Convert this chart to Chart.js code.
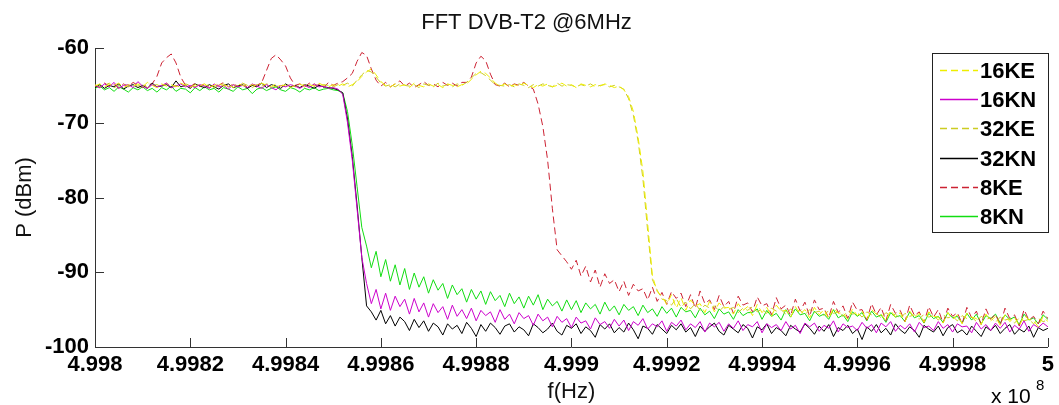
<!DOCTYPE html>
<html>
<head>
<meta charset="utf-8">
<script src="https://cdn.jsdelivr.net/npm/chart.js@4.4.1/dist/chart.umd.min.js"></script>
<style>
  html, body { margin: 0; padding: 0; background: #fff; }
  canvas { display: block; }
</style>
</head>
<body>
<canvas id="chart" width="1059" height="405"></canvas>
<script>
// frequency grid, in units of 1e8 Hz (axis shows "x 10^8")
const freqStart = 4.998;
const freqStep = 0.00001;
const freqCount = 201;

const seriesLabels = ['16KE', '16KN', '32KE', '32KN', '8KE', '8KN'];

const p16KE = [
  -65.1,-64.8,-65.2,-64.9,-65.0,-64.7,-65.3,-64.9,-65.1,-64.8,
  -65.2,-64.6,-65.0,-65.3,-64.8,-65.1,-64.9,-65.2,-64.7,-65.0,
  -65.3,-64.9,-65.1,-64.8,-65.2,-65.0,-64.7,-65.1,-64.9,-65.3,
  -64.8,-65.0,-65.2,-64.9,-65.1,-64.7,-65.0,-65.2,-64.8,-65.1,
  -64.9,-65.3,-65.0,-64.8,-65.2,-64.9,-65.1,-64.7,-65.0,-65.2,
  -64.9,-65.1,
  -64.8,-65.2,-64.9,-64.5,-63.8,-63.2,-62.8,-63.6,-64.5,-65.0,
  -65.2,-64.8,-65.1,-64.9,-65.3,-64.7,-65.0,-65.2,-64.8,-65.1,-64.9,-65.3,-64.8,-65.0,-65.2,-64.9,
  -64.8,-64.2,-63.6,-63.1,-63.4,-64.0,-64.7,-65.1,
  -64.8,-65.2,-64.9,-65.1,-64.7,-65.0,-65.3,-64.9,-65.1,-64.8,-65.2,-65.0,-64.7,-65.1,-64.9,-65.3,-64.8,-65.0,-65.2,-64.9,-65.1,-64.8,-65.0,-65.3,-65.1,
  -65.6,-66.5,-68.5,-72.0,-76.5,-83.5,-90.5,-92.6,-93.2,
  -94.3,-93.0,-94.8,-93.4,-95.1,-93.7,-94.5,-94.2,-95.4,-93.9,
  -95.3,-94.1,-94.8,-94.7,-95.6,-94.2,-95.1,-94.6,-95.8,-94.3,
  -95.4,-94.7,-95.9,-94.4,-95.2,-95.1,-96.0,-94.6,-95.6,-95.0,
  -96.1,-94.7,-95.7,-95.0,-96.2,-94.8,-95.5,-95.4,-96.3,-94.9,
  -95.8,-95.2,-96.4,-95.0,-95.6,-95.6,-96.5,-95.1,-96.0,-95.4,
  -96.6,-95.2,-96.1,-95.5,-96.7,-95.3,-95.9,-96.0,-96.8,-95.4,
  -96.3,-95.7,-96.9,-95.5,-96.0,-96.2,-97.0,-95.6,-96.5,-95.9,
  -97.1,-95.7,-96.6,-96.0,-97.2,-95.8,-96.3,-96.5,-97.3,-95.9,-96.6
];

const p16KN = [
  -65.0,-65.3,-64.8,-65.2,-64.6,-65.4,-65.0,-64.9,-65.3,-64.5,
  -65.1,-65.4,-64.9,-65.2,-65.0,-64.7,-65.3,-65.1,-64.8,-65.2,
  -65.0,-65.3,-64.9,-65.1,-65.4,-64.8,-65.2,-65.0,-65.5,-64.9,
  -65.2,-65.0,-65.3,-64.8,-65.1,-65.4,-64.9,-65.3,-65.6,-65.0,
  -65.2,-64.9,-65.1,-65.4,-65.0,-65.3,-64.8,-65.2,-65.1,-65.4,
  -65.3,-65.5,
  -66.2,-70.0,-75.0,-81.5,-88.0,-91.5,
  -94.2,-92.3,-94.9,-92.8,-95.1,-93.2,-94.6,-93.6,-95.6,-93.5,-95.3,-94.1,
  -96.0,-94.2,-95.4,-94.6,-96.3,-94.4,-95.9,-95.0,-96.2,-94.8,
  -96.5,-95.1,-95.8,-95.3,-96.7,-95.0,-96.3,-95.6,-96.9,-95.4,
  -96.2,-95.8,-97.1,-95.6,-96.5,-96.0,-97.3,-95.9,-96.7,-96.2,
  -97.4,-96.0,-96.8,-96.5,-97.6,-96.1,-97.0,-96.6,-97.5,-96.3,
  -97.2,-96.4,-97.8,-96.6,-97.1,-96.2,-97.6,-96.9,-97.3,-96.5,
  -97.9,-96.7,-97.2,-96.4,-97.7,-96.9,-97.4,-96.6,-98.0,-96.8,
  -97.3,-96.7,-97.9,-96.9,-97.5,-96.5,-97.8,-97.0,-97.3,-96.6,
  -98.1,-96.9,-97.4,-97.0,-97.8,-96.6,-97.6,-97.1,-98.2,-96.8,
  -97.3,-96.8,-97.9,-97.1,-97.5,-96.5,-98.0,-96.9,-97.4,-97.2,
  -97.8,-96.7,-97.5,-97.0,-98.1,-96.8,-97.3,-96.6,-97.9,-97.1,
  -97.6,-96.9,-98.0,-96.7,-97.4,-97.2,-97.8,-96.6,-97.5,-97.0,
  -98.0,-96.9,-97.3,-97.2,-98.1,-96.7,-97.6,-97.0,-97.8,-96.8,
  -97.5,-96.7,-98.0,-97.1,-97.6,-96.5,-97.9,-97.0,-97.4,-96.8,-97.3
];

const p32KE = [
  -64.9,-65.2,-65.0,-64.7,-65.3,-65.0,-64.8,-65.2,-64.9,-65.1,
  -64.8,-65.3,-65.0,-64.9,-65.2,-64.7,-65.1,-65.0,-65.3,-64.8,
  -65.0,-65.2,-64.8,-65.1,-64.9,-65.3,-65.0,-64.8,-65.2,-64.9,
  -65.1,-64.7,-65.0,-65.3,-64.9,-65.1,-64.8,-65.0,-65.2,-64.9,
  -65.1,-64.8,-65.2,-65.0,-64.9,-65.3,-64.8,-65.1,-64.9,-65.0,
  -65.2,-64.9,
  -65.0,-64.7,-65.1,-64.3,-63.6,-63.0,-63.2,-63.9,-64.7,-65.1,
  -64.9,-65.2,-64.8,-65.0,-65.1,-64.9,-65.3,-64.8,-65.0,-65.2,-64.7,-65.1,-64.9,-65.2,-64.8,-65.0,
  -64.6,-64.0,-63.4,-63.3,-63.7,-64.3,-64.9,-65.0,
  -65.1,-64.9,-65.2,-64.8,-65.0,-65.3,-64.9,-65.1,-64.8,-65.0,-65.2,-64.7,-65.1,-64.9,-65.0,-65.2,-64.9,-65.1,-64.8,-65.2,-65.0,-64.9,-65.2,-65.0,-65.2,
  -65.5,-66.8,-69.0,-72.5,-77.5,-84.5,-91.0,-92.4,-93.6,
  -93.8,-94.4,-93.5,-94.7,-94.0,-94.9,-94.2,-95.1,-94.4,-94.8,
  -94.5,-95.2,-94.6,-95.0,-94.7,-95.4,-94.8,-95.1,-94.6,-95.3,
  -94.9,-95.5,-94.8,-95.2,-95.0,-95.6,-94.9,-95.3,-95.1,-95.7,
  -95.0,-95.4,-95.2,-95.8,-95.1,-95.5,-95.3,-95.9,-95.2,-95.6,
  -95.4,-96.0,-95.3,-95.7,-95.5,-96.1,-95.4,-95.8,-95.6,-96.2,
  -95.5,-95.9,-95.7,-96.3,-95.6,-96.0,-95.8,-96.4,-95.7,-96.1,
  -95.9,-96.5,-95.8,-96.2,-96.0,-96.6,-95.9,-96.3,-96.1,-96.7,
  -96.0,-96.4,-96.2,-96.8,-96.1,-96.5,-96.3,-96.9,-96.2,-96.6,-96.4
];

const p32KN = [
  -65.3,-64.9,-65.4,-65.0,-65.2,-64.8,-65.5,-65.1,-64.9,-65.3,
  -65.0,-65.4,-64.7,-65.2,-65.1,-64.9,-65.3,-64.4,-65.2,-65.0,
  -65.4,-64.8,-65.1,-65.3,-64.9,-65.2,-65.5,-65.0,-64.8,-65.3,
  -65.1,-64.9,-65.4,-65.0,-65.2,-64.7,-65.3,-64.9,-65.1,-65.4,
  -64.8,-65.2,-65.0,-65.3,-64.9,-65.1,-65.4,-65.0,-65.2,-65.3,
  -65.4,-65.6,
  -66.0,-69.5,-74.5,-81.0,-88.0,-94.5,
  -95.3,-96.4,-95.1,-96.9,-95.8,-97.2,-96.0,-96.6,-97.8,-96.3,-97.4,-96.5,
  -97.9,-96.8,-97.3,-98.4,-96.9,-97.6,-97.1,-98.2,-96.7,-97.5,
  -98.6,-97.0,-97.9,-96.8,-97.4,-98.3,-97.2,-96.9,-98.0,-97.3,
  -97.7,-98.5,-96.9,-97.4,-98.1,-97.6,-96.8,-97.9,-98.4,-97.1,
  -97.5,-96.9,-98.2,-97.3,-97.8,-98.7,-97.0,-97.6,-96.9,-98.1,
  -97.4,-98.0,-96.8,-97.7,-98.9,-97.2,-97.5,-98.3,-97.0,-97.6,
  -98.2,-97.1,-97.7,-96.9,-98.0,-97.4,-98.6,-97.2,-97.9,-97.3,
  -96.8,-97.9,-98.4,-97.1,-97.6,-98.1,-97.0,-97.5,-98.8,-97.3,
  -97.7,-96.9,-98.2,-97.4,-97.8,-98.5,-97.1,-97.6,-98.0,-96.9,
  -97.5,-98.3,-97.2,-97.9,-97.0,-98.6,-97.4,-97.8,-97.1,-98.2,
  -97.6,-99.0,-97.3,-97.9,-97.0,-98.1,-97.5,-98.4,-96.9,-97.7,
  -98.2,-97.3,-97.8,-98.7,-97.1,-97.6,-98.0,-97.2,-98.5,-97.4,
  -97.0,-98.1,-97.7,-98.4,-97.2,-97.9,-98.6,-97.3,-97.8,-97.1,
  -98.2,-97.5,-97.0,-98.3,-97.6,-98.0,-97.2,-98.7,-97.4,-97.8,-97.5
];

const p8KE = [
  -65.0,-65.3,-64.7,-65.1,-64.9,-65.4,-64.8,-65.2,-64.6,-65.0,-65.3,-64.9,
  -64.8,-63.8,-62.0,-61.3,-60.8,-62.0,-63.9,-65.0,
  -65.2,-64.7,-65.1,-64.8,-65.3,-64.9,-65.0,-64.6,-65.2,-64.8,-65.1,-64.7,-65.3,-64.9,-65.0,
  -64.6,-63.0,-61.4,-60.9,-61.6,-62.4,-64.0,-65.0,
  -64.8,-65.2,-64.7,-65.1,-64.9,-65.3,-64.6,-65.0,-64.7,
  -64.5,-64.0,-63.4,-61.8,-60.6,-61.0,-62.8,-64.3,-65.1,
  -64.6,-65.2,-64.8,-64.4,-65.1,-64.7,-65.3,-64.9,-64.5,-65.0,-64.8,-65.2,-64.6,-65.0,-64.7,-65.1,-64.6,
  -64.6,-63.9,-62.0,-61.1,-61.7,-63.5,-64.9,
  -65.1,-64.7,-65.2,-64.8,-65.0,-64.6,-65.1,
  -65.5,-67.5,-70.5,-75.0,-81.5,-87.0,
  -87.8,-88.6,
  -89.6,-88.4,-90.5,-89.2,-91.3,-89.7,-92.0,-90.2,-91.5,-91.0,
  -92.6,-91.2,-93.1,-91.6,-92.5,-92.2,-93.7,-92.0,-93.9,-92.7,
  -94.3,-92.6,-93.5,-92.8,-94.6,-93.0,-94.8,-92.5,-94.2,-93.7,
  -95.0,-93.1,-94.6,-93.9,-95.5,-93.2,-94.4,-94.1,-95.3,-93.3,
  -94.5,-94.2,-95.7,-93.4,-94.9,-94.4,-95.8,-93.6,-95.2,-94.0,
  -95.9,-93.7,-95.0,-94.8,-96.1,-93.9,-95.4,-94.5,-96.2,-94.0,
  -95.1,-95.0,-96.4,-94.2,-95.7,-94.7,-96.5,-94.3,-95.5,-95.1,
  -96.6,-94.4,-95.8,-95.3,-96.7,-94.6,-96.0,-95.0,-96.8,-94.8,
  -95.9,-95.4,-96.9,-94.7,-96.1,-95.2,-97.0,-94.9,-96.3,-95.6,
  -97.1,-94.8,-96.2,-95.7,-97.2,-95.0,-96.4,-95.9,-96.9,-95.2,-96.2
];

const p8KN = [
  -65.4,-65.1,-65.6,-65.3,-65.8,-65.2,-65.5,-65.9,-65.3,-65.6,
  -65.2,-65.7,-65.4,-65.9,-65.3,-65.6,-65.1,-65.8,-65.4,-65.5,
  -66.0,-65.3,-65.7,-65.2,-65.6,-65.4,-65.9,-65.3,-65.5,-65.8,
  -65.2,-65.6,-65.4,-66.1,-65.5,-65.3,-65.7,-65.4,-65.2,-65.6,
  -65.8,-65.3,-65.5,-65.9,-65.4,-65.6,-65.3,-65.7,-65.5,-65.4,
  -65.6,-65.7,
  -66.0,-68.5,-73.0,-78.5,-84.0,-86.5,
  -89.4,-87.2,-90.6,-88.3,-91.2,-89.0,-91.7,-89.5,-92.3,-90.1,-92.0,-90.6,
  -92.8,-91.0,-92.4,-91.5,-93.5,-91.7,-93.0,-92.2,-94.0,-92.3,
  -93.6,-92.5,-94.3,-92.6,-93.8,-93.1,-94.6,-92.8,-94.2,-93.3,
  -94.8,-93.2,-94.4,-93.0,-95.0,-93.6,-94.5,-93.9,-95.2,-93.7,
  -95.0,-93.8,-95.4,-94.1,-94.9,-94.3,-95.6,-94.0,-95.2,-94.5,
  -95.7,-94.3,-95.1,-94.6,-95.8,-94.4,-95.4,-94.9,-95.9,-94.6,
  -95.5,-94.8,-96.0,-94.7,-95.3,-95.1,-96.1,-94.8,-95.7,-95.2,
  -96.2,-94.9,-95.6,-95.3,-96.3,-95.0,-95.8,-95.4,-95.4,-94.9,
  -96.3,-95.1,-95.9,-95.5,-96.4,-95.0,-96.0,-94.9,-95.7,-95.5,
  -96.5,-95.2,-95.9,-95.6,-96.3,-95.0,-96.1,-95.7,-96.6,-95.3,
  -95.9,-95.4,-96.5,-95.2,-96.0,-95.7,-96.7,-95.4,-96.0,-95.8,
  -96.6,-95.3,-96.1,-95.8,-96.8,-95.5,-96.2,-95.9,-96.7,-95.4,
  -96.1,-95.9,-96.8,-95.5,-96.4,-95.6,-96.9,-95.8,-96.2,-95.6,
  -96.8,-95.7,-96.3,-96.0,-97.0,-95.6,-96.4,-96.1,-96.9,-95.7,-96.3
];

const yTicks = [-100, -90, -80, -70, -60];
const xTickStep = 0.0002;

const freqs = [];
for (let i = 0; i < freqCount; i++) freqs.push(+(freqStart + i * freqStep).toFixed(5));
const toPoints = arr => arr.map((v, i) => ({ x: freqs[i], y: v }));

const FONT = "'Liberation Sans', Arial, Helvetica, sans-serif";

const seriesValues = [p16KE, p16KN, p32KE, p32KN, p8KE, p8KN];
const seriesColors = ['#eeee00', '#cc00cc', '#cccc22', '#000000', '#cc2233', '#11dd11'];
const seriesDash = [[7, 4], [], [7, 4], [], [7, 4], []];

// MATLAB style legend box inside the axes, top right
const boxLegend = {
  id: 'boxLegend',
  afterDraw(chart) {
    const ctx = chart.ctx;
    const bx = 932, by = 53, bw = 116, bh = 179;
    ctx.save();
    ctx.fillStyle = '#fff';
    ctx.fillRect(bx, by, bw, bh);
    ctx.strokeStyle = '#222';
    ctx.lineWidth = 1;
    ctx.strokeRect(bx + 0.5, by + 0.5, bw, bh);
    ctx.font = 'bold 22px ' + FONT;
    ctx.textBaseline = 'middle';
    chart.data.datasets.forEach((ds, i) => {
      const yy = Math.round(by + 17 + i * 29.2) + 0.5;
      ctx.strokeStyle = seriesColors[i];
      ctx.lineWidth = 1.3;
      ctx.setLineDash(seriesDash[i]);
      ctx.beginPath();
      ctx.moveTo(940, yy);
      ctx.lineTo(978, yy);
      ctx.stroke();
      ctx.setLineDash([]);
      ctx.fillStyle = '#000';
      ctx.fillText(ds.label, 980, yy + 1);
    });
    ctx.restore();
  }
};

// ticks pointing into the axes + exponent label
const innerTicks = {
  id: 'innerTicks',
  afterDraw(chart) {
    const { ctx, chartArea: a, scales: { x, y } } = chart;
    ctx.save();
    ctx.strokeStyle = '#333';
    ctx.lineWidth = 1;
    ctx.beginPath();
    x.ticks.forEach(t => {
      const px = Math.round(x.getPixelForValue(t.value)) + 0.5;
      ctx.moveTo(px, a.bottom);
      ctx.lineTo(px, a.bottom - 9);
    });
    y.ticks.forEach(t => {
      const py = Math.round(y.getPixelForValue(t.value)) + 0.5;
      ctx.moveTo(a.left, py);
      ctx.lineTo(a.left + 9, py);
    });
    ctx.stroke();
    ctx.fillStyle = '#000';
    ctx.textBaseline = 'alphabetic';
    ctx.font = '21px ' + FONT;
    ctx.fillText('x 10', 991, 403);
    ctx.font = '15px ' + FONT;
    ctx.fillText('8', 1036, 390);
    ctx.restore();
  }
};

new Chart(document.getElementById('chart'), {
  type: 'line',
  data: {
    datasets: seriesLabels.map((name, i) => ({
      label: name,
      data: toPoints(seriesValues[i]),
      borderColor: seriesColors[i],
      borderDash: seriesDash[i],
      borderWidth: 1,
      pointRadius: 0,
      fill: false,
      tension: 0,
    })),
  },
  options: {
    responsive: false,
    animation: false,
    layout: { padding: { left: 0, right: 6, top: 0, bottom: 0 } },
    plugins: {
      legend: { display: false },
      tooltip: { enabled: false },
      title: {
        display: true,
        text: 'FFT DVB-T2 @6MHz',
        color: '#111',
        font: { family: FONT, size: 22, weight: 'normal' },
        padding: { top: 10, bottom: 11.6 },
      },
    },
    scales: {
      x: {
        type: 'linear',
        min: 4.998,
        max: 5,
        grid: { display: false, drawTicks: false },
        border: { display: true, color: '#333', width: 1 },
        ticks: {
          stepSize: xTickStep,
          autoSkip: false,
          maxRotation: 0,
          padding: 5,
          color: '#000',
          font: { family: FONT, size: 22, weight: 'bold' },
          callback: v => String(Number(v.toFixed(4))),
        },
        title: {
          display: true,
          text: 'f(Hz)',
          color: '#111',
          font: { family: FONT, size: 22, weight: 'normal' },
          padding: { top: 0, bottom: 0 },
        },
        afterFit: s => { s.height = 58; },
      },
      y: {
        min: -100,
        max: -60,
        grid: { display: false, drawTicks: false },
        border: { display: true, color: '#333', width: 1 },
        afterBuildTicks: s => { s.ticks = yTicks.map(v => ({ value: v })); },
        ticks: {
          padding: 6,
          color: '#000',
          font: { family: FONT, size: 22, weight: 'bold' },
        },
        title: {
          display: true,
          text: 'P (dBm)',
          color: '#111',
          font: { family: FONT, size: 22, weight: 'normal' },
          padding: { top: 12, bottom: 0 },
        },
        afterFit: s => { s.width = 95; },
      },
    },
  },
  plugins: [boxLegend, innerTicks],
});
</script>
</body>
</html>
